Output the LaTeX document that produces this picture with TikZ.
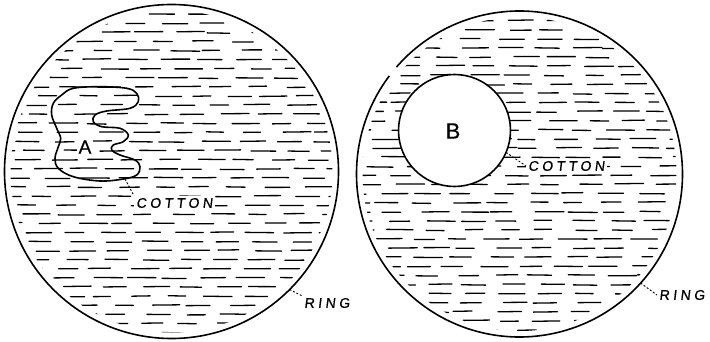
\documentclass[tikz,border=0pt]{standalone}
\usepackage{fontspec}
\setmainfont{Liberation Sans}
\newfontfamily\lettering[LetterSpace=25,FakeSlant=0.12,FakeBold=0.6]{Liberation Sans}
\newfontfamily\bigletter[FakeBold=0.6]{Liberation Sans}
\begin{document}
\begin{tikzpicture}[x=1pt,y=-1pt,
	ring/.style={ circle, draw, line width=1.6pt, inner sep=0pt, outer sep=0pt },
	hatch/.style={ line width=1.3pt, line cap=round },
	leader/.style={ line width=0.9pt, dash pattern=on 2pt off 1.8pt },
	tag/.style={ fill=white, inner sep=2pt, font=\lettering\fontsize{14}{14}\selectfont },
	letter/.style={ fill=white, inner sep=1.5pt, font=\bigletter\fontsize{19}{19}\selectfont }
]
\useasboundingbox (0,0) rectangle (710,342);

\pgfmathsetseed{1907}
\foreach \cx/\cy/\rr in {171.5/171.5/161,519.5/174/157}{
	\begin{scope}
	\clip (\cx,\cy) circle[radius=\rr];
	\foreach \r in {0,...,36}{
		\pgfmathsetmacro\shift{rnd*37}
		\foreach \k in {0,...,11}{
			\pgfmathsetmacro\xa{\cx-\rr-40+\k*37+\shift+rnd*9}
			\pgfmathsetmacro\ya{\cy-\rr+3+\r*9.1+rnd*1.2}
			\pgfmathsetmacro\len{17+rnd*12}
			\draw[hatch] (\xa,\ya) -- ++(\len,0.8*rnd-0.4);
		}
	}
	\end{scope}
}

\node at (171.5,171.5) (ringA) [ring, minimum size=334pt] {};
\node at (519.5,174) (ringB) [ring, draw=none, minimum size=326pt] {};
\draw[line width=1.6pt] (ringB.center) ++(221:163) arc[start angle=221, end angle=577, radius=163];

\draw[line width=1.6pt] plot[smooth cycle, tension=0.6] coordinates {
	(61.7,95) (73.3,88.3) (100,86.7) (126.7,88.3) (136.7,93.3) (138.3,101.7)
	(130,108.3) (106.7,111) (95,115) (93.3,121.7) (101.7,126.7) (120,128.3)
	(128.3,135) (123.3,141.7) (113.3,145) (111.7,150) (120,155) (135,160)
	(140,166.7) (136.7,175) (123.3,179) (100,181) (73.3,176.7) (58.3,168.3)
	(55,158.3) (58.3,146.7) (60.7,138.3) (56.7,128.3) (51.7,115) (53.3,103.3)};
\coordinate (blobtip) at (125,179);
\node at (454.5,130.5) (holeB) [ring, fill=white, minimum size=112pt] {};

\node at (85,147) (lblA) [letter] {A};
\node at (453,131) (lblB) [letter, font=\bigletter\fontsize{22}{22}\selectfont] {B};

\node at (134,203) (cottonA) [tag, anchor=west] {COTTON};
\node at (526,166) (cottonB) [tag, anchor=west] {COTTON};
\node at (302,303) (ringAlbl) [tag, anchor=west] {RING};
\node at (657,295) (ringBlbl) [tag, anchor=west] {RING};

\draw[leader] (blobtip) -- (cottonA.north west);
\draw[leader] (holeB.337) -- (cottonB.west);
\draw[leader] (ringA.315) -- (ringAlbl.north west);
\draw[leader] (ringB.318) -- (ringBlbl.west);

\end{tikzpicture}
\end{document}
